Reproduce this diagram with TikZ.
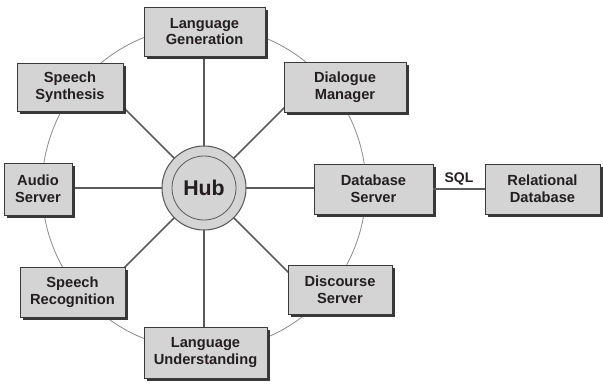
\documentclass[tikz,border=0pt]{standalone}
\usepackage{fontspec}
\setmainfont{Liberation Sans}
\usetikzlibrary{shadows,calc}
\definecolor{boxfill}{HTML}{D4D4D4}
\definecolor{boxline}{HTML}{3A3A3A}
\definecolor{spoke}{HTML}{5A5A5A}
\definecolor{ringc}{HTML}{8A8A8A}
\definecolor{txt}{HTML}{231F20}
\tikzset{
  box/.style={draw=boxline, line width=0.7pt, fill=boxfill, inner sep=0pt, align=center,
    font=\fontsize{11}{12.5}\selectfont\bfseries, text=txt,
    drop shadow={shadow xshift=2.2pt, shadow yshift=-2.2pt, fill=black!78, opacity=1}},
  spokeline/.style={draw=spoke, line width=1.1pt},
  ring/.style={draw=ringc, line width=0.6pt},
}
\begin{document}
\begin{tikzpicture}[x=0.75pt,y=-0.75pt]
\useasboundingbox (0,0) rectangle (603,383);
\coordinate (c) at (204,188);
% big ring
\draw[ring] (c) circle[radius=121.5pt];
% spokes
\foreach \a/\n in {0/e,45/ne,90/n,135/nw,180/w,225/sw,270/s,315/se} {
  \coordinate (p\n) at ($(c)+(\a:121.5pt)$);
}
\foreach \n in {e,ne,n,nw,w,sw,s,se} {
  \draw[spokeline] (c) -- (p\n);
}
% hub
\node[circle, draw=spoke, line width=0.8pt, fill=boxfill, minimum size=63pt, inner sep=0pt] (hubout) at (c) {};
\node[circle, draw=spoke, line width=0.6pt, fill=boxfill, minimum size=48pt, inner sep=0pt,
  font=\fontsize{16}{18}\selectfont\bfseries, text=txt] (hub) at (c) {Hub};
% boxes
\node[box, minimum width=90.75pt, minimum height=36.75pt] (lg) at (204.5,31.5) {Language\\Generation};
\node[box, minimum width=91.5pt, minimum height=37.5pt] (dm) at (345,87) {Dialogue\\Manager};
\node[box, minimum width=79.5pt, minimum height=36pt] (ss) at (70,87) {Speech\\Synthesis};
\node[box, minimum width=51pt, minimum height=39pt] (as) at (38,189) {Audio\\Server};
\node[box, minimum width=89.25pt, minimum height=37.5pt] (db) at (373.5,189) {Database\\Server};
\node[box, minimum width=86.25pt, minimum height=37.5pt] (rd) at (542.5,189) {Relational\\Database};
\node[box, minimum width=78pt, minimum height=36.75pt] (ds) at (340,289.5) {Discourse\\Server};
\node[box, minimum width=78.75pt, minimum height=37.5pt] (sr) at (72.5,292) {Speech\\Recognition};
\node[box, minimum width=92.25pt, minimum height=38.25pt] (lu) at (205.5,352.5) {Language\\Understanding};
% SQL link
\draw[spokeline, line width=0.9pt] (db.east) -- node[above, inner sep=2pt, font=\fontsize{10.5}{12}\selectfont\bfseries, text=txt] (sql) {SQL} (rd.west);
\end{tikzpicture}
\end{document}
